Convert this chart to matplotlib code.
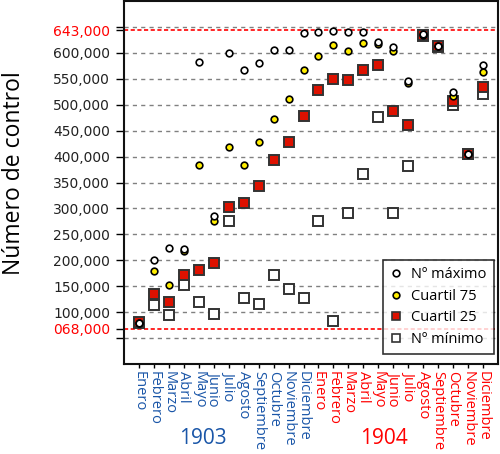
import numpy as np
import matplotlib
matplotlib.use('Agg')
import matplotlib.pyplot as plt
import matplotlib.transforms as mtransforms

plt.rcParams['font.family'] = ['Open Sans', 'DejaVu Sans']

meses = ['Enero', 'Febrero', 'Marzo', 'Abril', 'Mayo', 'Junio', 'Julio',
         'Agosto', 'Septiembre', 'Octubre', 'Noviembre', 'Diciembre']
anios = ['1903', '1904']

# valores en miles, de enero 1903 a diciembre 1904
maximo = [80, 201, 224, 221, 583, 285, 600, 567, 581, 606, 606, 638,
          640, 642, 641, 641, 620, 611, 545, 636, 614, 524, 405, 577]
cuartil75 = [80, 179, 152, 218, 384, 275, 418, 384, 429, 472, 511, 567,
             594, 615, 603, 618, 616, 603, 542, 635, 613, 517, 405, 563]
cuartil25 = [81, 136, 120, 172, 182, 195, 302, 310, 343, 393, 429, 479,
             528, 549, 547, 566, 576, 488, 460, 634, 613, 507, 405, 535]
minimo = [79, 113, 94, 153, 120, 96, 276, 127, 115, 172, 144, 127,
          276, 84, 292, 366, 476, 292, 382, 633, 612, 500, 404, 520]

limites = [643000, 68000]
yticks = [50000, 100000, 150000, 200000, 250000, 300000, 350000,
          400000, 450000, 500000, 550000, 600000, 650000]

azul = '#1a56a8'
rojo = '#ff0000'

fig = plt.figure(figsize=(5.0, 4.54), dpi=100)
ax = fig.add_axes([0.248, 0.198, 0.748, 0.80])

x = np.arange(1, 25)
k = 1000
ax.plot(x, np.array(minimo) * k, 's', ms=7, mfc='white', mec='#333333',
        mew=1.4, zorder=3, label='Nº mínimo')
ax.plot(x, np.array(cuartil25) * k, 's', ms=7, mfc='#dd1100', mec='#333333',
        mew=1.4, zorder=4, label='Cuartil 25')
ax.plot(x, np.array(cuartil75) * k, 'o', ms=4.8, mfc='#ffee00', mec='black',
        mew=1.2, zorder=5, label='Cuartil 75')
ax.plot(x, np.array(maximo) * k, 'o', ms=4.8, mfc='white', mec='black',
        mew=1.2, zorder=6, label='Nº máximo')

for v in yticks:
    ax.axhline(v, color='#808080', lw=1, ls=(0, (3, 3)), zorder=1)
for v in limites:
    ax.axhline(v, color=rojo, lw=1.2, ls=(0, (2.5, 1.5)), zorder=2)

ax.set_xlim(0, 25)
ax.set_ylim(0, 700000)

ticks_y = yticks + limites
labels_y = ['' if v in (50000, 650000) else f'{v:07,}' for v in ticks_y]
ax.set_yticks(ticks_y)
ax.set_yticklabels(labels_y, family='DejaVu Sans', fontsize=10, color='#222222')
for lab, v in zip(ax.get_yticklabels(), ticks_y):
    if v in limites:
        lab.set_color(rojo)
for tk, v in zip(ax.yaxis.get_major_ticks(), ticks_y):
    if v in limites:
        tk.tick1line.set_color(rojo)
        tk.tick1line.set_markersize(10)
ax.tick_params(axis='y', length=6, width=1, pad=4)

ax.set_xticks(x)
ax.set_xticklabels(meses + meses, rotation=-90, fontsize=10.5, va='top', ha='center')
for i, lab in enumerate(ax.get_xticklabels()):
    lab.set_color(azul if i < 12 else rojo)
ax.tick_params(axis='x', length=3, width=1, pad=2)

trans = mtransforms.blended_transform_factory(ax.transData, ax.transAxes)
ax.text(5.3, -0.205, anios[0], transform=trans, ha='center', va='center',
        fontsize=15, color=azul)
ax.text(17.4, -0.205, anios[1], transform=trans, ha='center', va='center',
        fontsize=15, color=rojo)

ax.set_ylabel('Número de control', fontsize=16.5)
ax.yaxis.set_label_coords(-0.262, 0.525)

for s in ax.spines.values():
    s.set_linewidth(1.5)
    s.set_color('#111111')

handles, labels = ax.get_legend_handles_labels()
leg = ax.legend(handles[::-1], labels[::-1], loc='lower right',
                bbox_to_anchor=(0.988, 0.027), borderaxespad=0, fontsize=10.5,
                frameon=True, fancybox=False, edgecolor='black',
                handlelength=0.8, handletextpad=0.6, labelspacing=0.45,
                borderpad=0.5)
leg.get_frame().set_linewidth(1.2)
leg.set_zorder(10)
for h in leg.legend_handles:
    if h.get_marker() == 's':
        h.set_markersize(6)
        h.set_markeredgewidth(1.2)

fig.savefig('out.png', dpi=100)
